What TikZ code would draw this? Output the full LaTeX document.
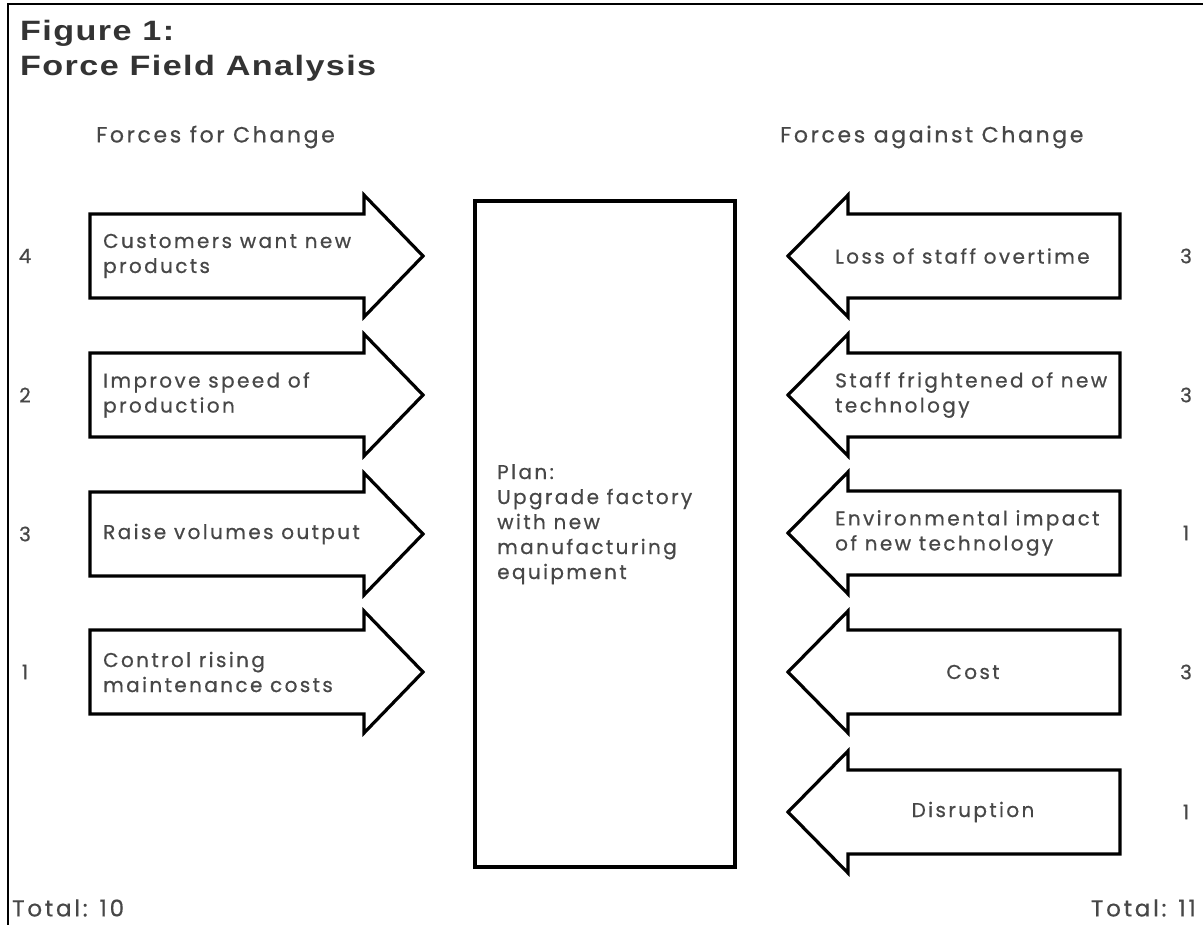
\documentclass[tikz,border=0pt]{standalone}
\usepackage{fontspec}
\setmainfont{Poppins}
\newfontfamily\titlef[LetterSpace=5,FakeStretch=1.22]{Liberation Sans}
\newfontfamily\bodyf[LetterSpace=12,FakeBold=0.6]{Poppins}
\begin{document}
\begin{tikzpicture}[x=1pt,y=-1pt,
  shape outline/.style={draw=black,line width=3.2pt,line join=miter,fill=white},
  lbl/.style={font=\bodyf\fontsize{20}{25}\selectfont,text=black!72,inner sep=0pt,align=left},
  hdr/.style={font=\bodyf\fontsize{22}{25}\selectfont,text=black!72,inner sep=0pt},
  tot/.style={font=\bodyf\fontsize{23}{25}\selectfont,text=black!72,inner sep=0pt},
  num/.style={font=\bodyf\fontsize{20}{25}\selectfont,text=black!72,inner sep=0pt},
  ttl/.style={font=\titlef\bfseries\fontsize{28}{35}\selectfont,text=black!80,inner sep=0pt,align=left}]
\useasboundingbox (0,0) rectangle (1203,925);
\fill[white] (0,0) rectangle (1203,925);
% frame
\coordinate (fa) at (8,925);
\coordinate (fb) at (8,4);
\coordinate (fc) at (1203,4);
\draw[line width=2.5pt] (fa) -- (fb) -- (fc);
% title
\node[ttl,anchor=north west] (title) at (20,20) {Figure 1:\\Force Field Analysis};
\node[hdr,anchor=west] (hfor) at (96,137) {Forces for Change};
\node[hdr,anchor=west] (hagainst) at (780,137) {Forces against Change};
% centre plan box
\node[shape outline,minimum width=260pt,minimum height=666pt,inner sep=0pt] (plan) at (605,534) {};
\node[lbl,anchor=north west] (plantext) at (497,464) {Plan:\\Upgrade factory\\with new\\manufacturing\\equipment};
% left arrows
\foreach \y/\n/\t [count=\i] in {256/4/{Customers want new\\products},395/2/{Improve speed of\\production},534/3/{Raise volumes output},672/1/{Control rising\\maintenance costs}}{
  \draw[shape outline] (90,\y-42) -- (364,\y-42) -- (364,\y-61) -- (423,\y) -- (364,\y+61) -- (364,\y+42) -- (90,\y+42) -- cycle;
  \node[lbl,anchor=west] (lt\i) at (103,\y) {\t};
  \node[num] (ln\i) at (25,\y) {\n};
}
% right arrows
\foreach \y/\n/\t [count=\i] in {256/3/{Loss of staff overtime},395/3/{Staff frightened of new\\technology},533/1/{Environmental impact\\of new technology}}{
  \draw[shape outline] (1120,\y-42) -- (848,\y-42) -- (848,\y-61) -- (788,\y) -- (848,\y+61) -- (848,\y+42) -- (1120,\y+42) -- cycle;
  \node[lbl,anchor=west] (rt\i) at (835,\y) {\t};
  \node[num] (rn\i) at (1186,\y) {\n};
}
\foreach \y/\n/\t [count=\i from 4] in {672/3/{Cost},812/1/{Disruption}}{
  \draw[shape outline] (1120,\y-42) -- (848,\y-42) -- (848,\y-61) -- (788,\y) -- (848,\y+61) -- (848,\y+42) -- (1120,\y+42) -- cycle;
  \node[lbl] (rt\i) at (973,\y) {\t};
  \node[num] (rn\i) at (1186,\y) {\n};
}
% totals
\node[tot,anchor=west] (totl) at (12,908) {Total: 10};
\node[tot,anchor=east] (totr) at (1196,908) {Total: 11};
\end{tikzpicture}
\end{document}
